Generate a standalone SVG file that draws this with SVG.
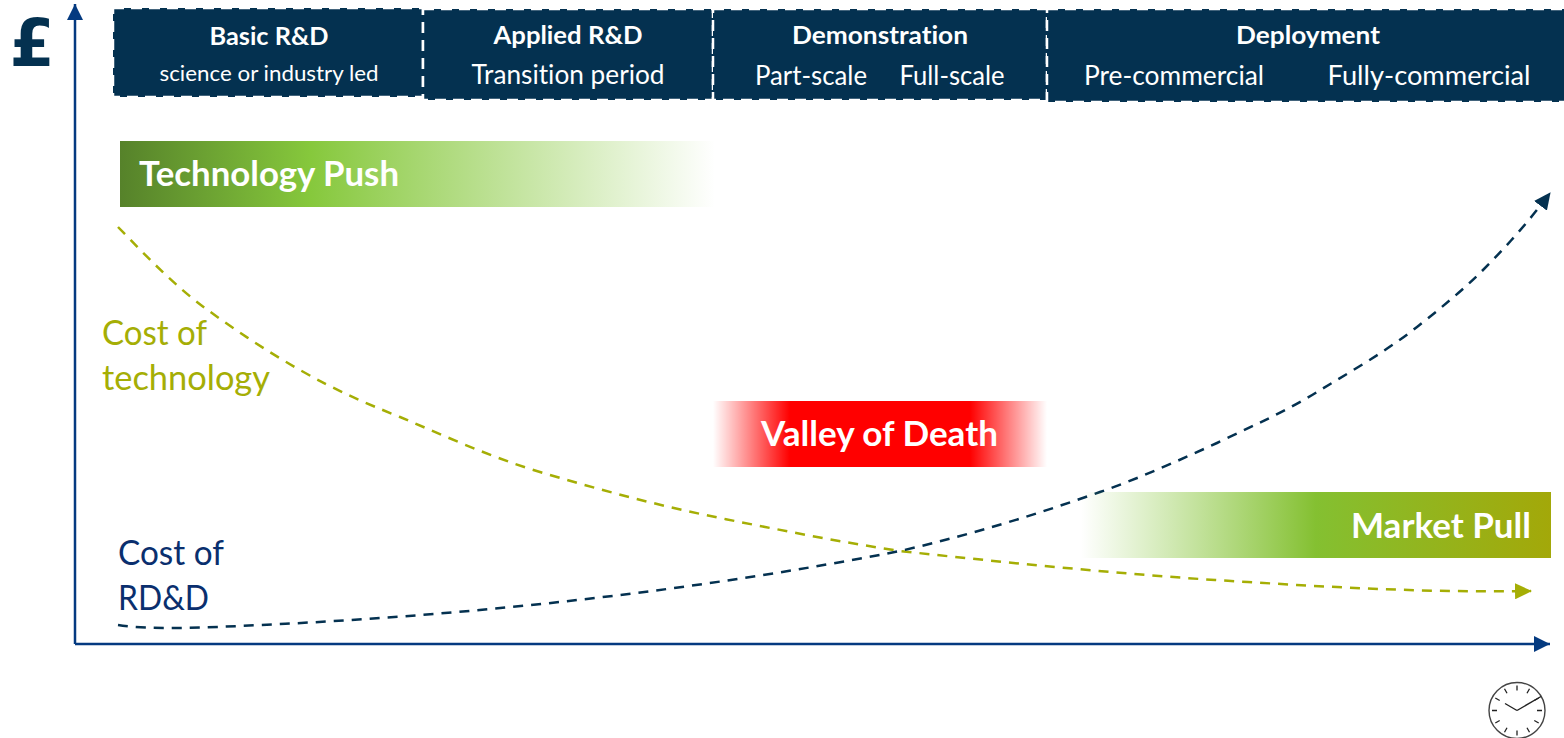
<svg xmlns="http://www.w3.org/2000/svg" width="1564" height="738" viewBox="0 0 1564 738">
<style>
text{font-family:Lato,"Open Sans","Liberation Sans",sans-serif;font-variant-ligatures:none}
.h{font-size:25px;font-weight:700;fill:#fff;text-anchor:middle}
.s{font-size:26px;fill:#fff;text-anchor:middle}
.b{font-size:34px;font-weight:700;fill:#fff}
.l{font-size:34px}
.box{fill:#043150;stroke:#fff;stroke-width:2.5;stroke-dasharray:11 7}
.tick{stroke:#222;stroke-width:1.3}
</style>
<defs>
<marker id="axis" markerUnits="userSpaceOnUse" markerWidth="17" markerHeight="17" refX="16" refY="8" orient="auto"><path d="M0 0L16 8L0 16Z" fill="#043a80"/></marker>
<marker id="navy" markerUnits="userSpaceOnUse" markerWidth="18" markerHeight="16" refX="16" refY="8" orient="auto"><path d="M0 0L17 8L0 16Z" fill="#043150"/></marker>
<marker id="olive" markerUnits="userSpaceOnUse" markerWidth="18" markerHeight="16" refX="16" refY="8" orient="auto"><path d="M0 0L17 8L0 16Z" fill="#a5ae05"/></marker>
<linearGradient id="push"><stop offset="0" stop-color="#56822a"/><stop offset=".32" stop-color="#86c83c"/><stop offset="1" stop-color="#86c83c" stop-opacity="0"/></linearGradient>
<linearGradient id="pull"><stop offset="0" stop-color="#86c83c" stop-opacity="0"/><stop offset=".5" stop-color="#84c031"/><stop offset="1" stop-color="#a3a809"/></linearGradient>
<linearGradient id="vod"><stop offset="0" stop-color="#f00" stop-opacity="0"/><stop offset=".23" stop-color="#f00"/><stop offset=".77" stop-color="#f00"/><stop offset="1" stop-color="#f00" stop-opacity="0"/></linearGradient>
</defs>
<g id="connectors" fill="none">
<path id="y-axis" d="M75 644V4" stroke="#043a80" stroke-width="2.5" marker-end="url(#axis)"/>
<path id="x-axis" d="M75 644H1550" stroke="#043a80" stroke-width="2.5" marker-end="url(#axis)"/>
<path id="cost-technology" d="M118 227C147 257 175 286 205 308C235 330 268 352 300 370C335 390 365 403 400 417C445 436 490 457 540 472C600 490 660 506 720 518C780 530 840 542 900 551C1000 562 1100 572 1200 579C1310 586 1420 593 1531 591" stroke="#a5ae05" stroke-width="2.5" stroke-dasharray="10 8" marker-end="url(#olive)"/>
<path id="cost-rdd" d="M118 625C150 630 200 628 260 625C480 615 700 590 900 551C970 535 1035 515 1100 492C1140 478 1180 460 1217 443C1252 426 1285 412 1317 392C1350 372 1385 352 1417 327C1441 308 1463 290 1483 270C1507 246 1530 220 1550 193" stroke="#043150" stroke-width="2.5" stroke-dasharray="10 8" marker-end="url(#navy)"/>
</g>
<g id="pound"><text x="32" y="66" font-size="65" font-weight="700" fill="#043150" text-anchor="middle" style="font-family:'DejaVu Sans',sans-serif">£</text></g>
<g id="basic-rd"><rect class="box" x="113" y="8" width="310" height="89"/><text class="h" x="269" y="45" textLength="119" lengthAdjust="spacingAndGlyphs">Basic R&amp;D</text><text class="s" x="269" y="81" style="font-size:22px" textLength="219" lengthAdjust="spacingAndGlyphs">science or industry led</text></g>
<g id="applied-rd"><rect class="box" x="423" y="9" width="290" height="91"/><text class="h" x="568" y="44" textLength="149" lengthAdjust="spacingAndGlyphs">Applied R&amp;D</text><text class="s" x="568" y="84" textLength="193" lengthAdjust="spacingAndGlyphs">Transition period</text></g>
<g id="demonstration"><rect class="box" x="713" y="9" width="334" height="91"/><text class="h" x="880" y="44" textLength="176" lengthAdjust="spacingAndGlyphs">Demonstration</text><text class="s" x="811" y="85" textLength="112" lengthAdjust="spacingAndGlyphs">Part-scale</text><text class="s" x="952" y="85" textLength="105" lengthAdjust="spacingAndGlyphs">Full-scale</text></g>
<g id="deployment"><rect class="box" x="1047" y="9" width="530" height="93"/><text class="h" x="1308" y="44" textLength="144" lengthAdjust="spacingAndGlyphs">Deployment</text><text class="s" x="1174" y="85" textLength="180" lengthAdjust="spacingAndGlyphs">Pre-commercial</text><text class="s" x="1429" y="85" textLength="203" lengthAdjust="spacingAndGlyphs">Fully-commercial</text></g>
<g id="technology-push"><rect x="120" y="141" width="595" height="66" fill="url(#push)"/><text class="b" x="139" y="186" textLength="260" lengthAdjust="spacingAndGlyphs">Technology Push</text></g>
<g id="valley-of-death"><rect x="713" y="401" width="334" height="66" fill="url(#vod)"/><text class="b" x="761" y="446" textLength="237" lengthAdjust="spacingAndGlyphs">Valley of Death</text></g>
<g id="market-pull"><rect x="1081" y="492" width="470" height="66" fill="url(#pull)"/><text class="b" x="1351" y="538" textLength="180" lengthAdjust="spacingAndGlyphs">Market Pull</text></g>
<g id="label-technology" fill="#a5ae05"><text class="l" x="102" y="345" textLength="105" lengthAdjust="spacingAndGlyphs">Cost of</text><text class="l" x="102" y="390" textLength="168" lengthAdjust="spacingAndGlyphs">technology</text></g>
<g id="label-rdd" fill="#0a2f6e"><text class="l" x="118" y="565" textLength="106" lengthAdjust="spacingAndGlyphs">Cost of</text><text class="l" x="118" y="610" textLength="91" lengthAdjust="spacingAndGlyphs">RD&amp;D</text></g>
<g id="clock" transform="translate(1517 710.5)"><circle r="28" fill="#fff" stroke="#444" stroke-width="1.4"/>
<path class="tick" d="M0-25V-20M0 20V25M-25 0H-20M20 0H25M12.5-21.7L10-17.3M-12.5-21.7L-10-17.3M12.5 21.7L10 17.3M-12.5 21.7L-10 17.3M21.7-12.5L17.3-10M-21.7-12.5L-17.3-10M21.7 12.5L17.3 10M-21.7 12.5L-17.3 10"/>
<path d="M0 0L24-14M0 0L-12-7" stroke="#222" stroke-width="1.4" fill="none"/></g>
</svg>
